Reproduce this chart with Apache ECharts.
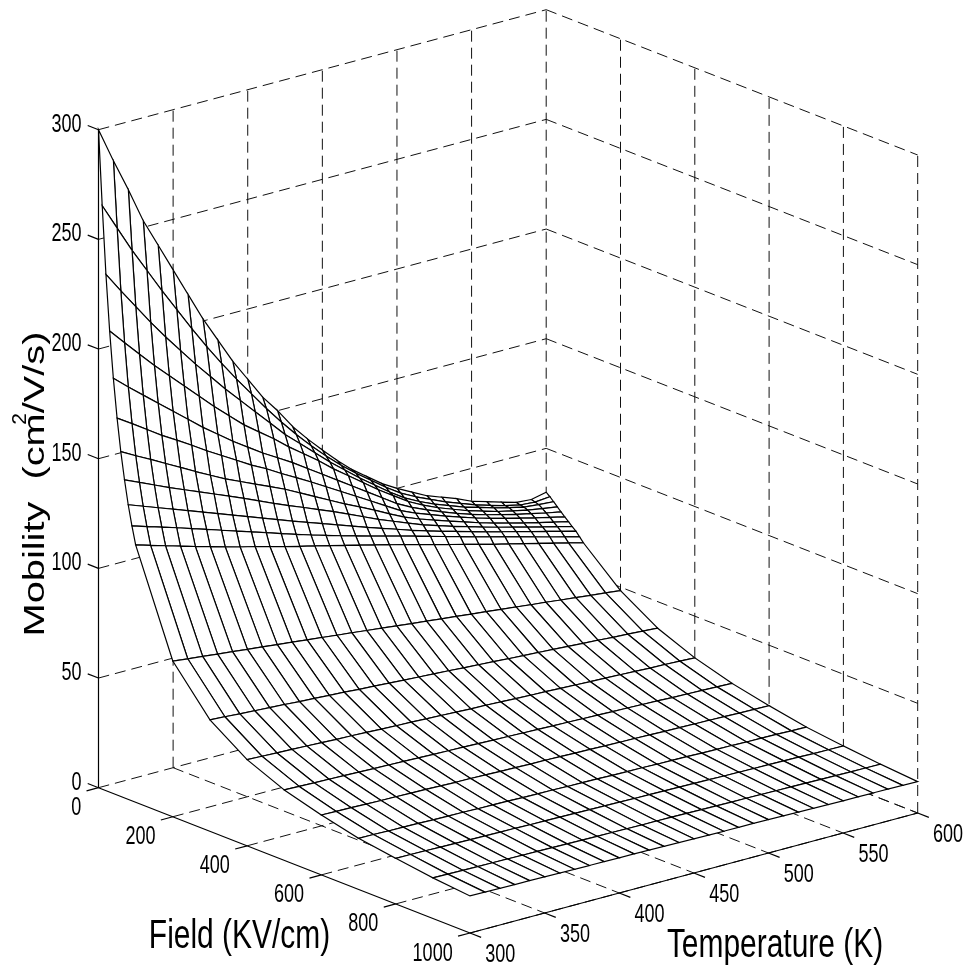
<!DOCTYPE html>
<html><head><meta charset="utf-8">
<style>html,body{margin:0;padding:0;background:#fff}#c{width:969px;height:973px}</style>
<script src="https://cdn.jsdelivr.net/npm/echarts@6/dist/echarts.min.js"></script>
</head><body><div id="c"></div>
<script>
// ---- values ----
const temperatures=[300,310,320,330,340,350,360,370,380,390,400,410,420,430,440,450,460,470,480,490,500,510,520,530,540,550,560,570,580,590,600];
const fields=[0,10,20,30,40,50,60,70,80,90,100,200,300,400,500,600,700,800,900,1000];
const mu0=[300,284,269,253,240,227,214,201,189.5,178,168,158,150,141,133.5,126.6,120,114,109,104,100,96.5,93,90.5,88,85,83,81,79,78.5,80];
const mu10=[266,254,242,231,220,209.5,199,189,179.5,170.5,162,153.5,145.5,138,131,124.5,118.5,113,108,103,98.5,95,92,89,86.5,84,82,80,78.5,78,78.6];
const mu20=[235.4,226,217,208,199.5,191.5,183.5,176,168.5,161.5,154.5,147.5,140.5,134.5,128.5,122.5,117,111.5,106.5,101.5,97,93.5,90.5,88,85.5,83.5,81.5,79.8,78.2,77.5,77];
const mu30=[210.2,203,196,189,182.5,176,169.5,163,157,151,146,141,135.5,130.5,125.5,120,115,110,105,100.5,96,92.5,89.5,87,84.5,82.5,80.5,79,77.5,76.3,75.3];
const mu40=[189.3,183.5,178,172.5,167,161.5,156,151,146,141.5,137,133,129,124.5,120,115.5,111,106.5,102,97.5,94,91,88.3,85.8,83.5,81.5,79.7,78,76.5,75,73.7];
const mu50=[171.8,167.5,163,158.5,154.5,150.3,146,142,138,134,130.5,126.5,122.8,119,115,111,107,103,99,95,92,89.5,87,84.7,82.5,80.5,78.7,77,75.3,73.7,72.1];
const mu60=[157.2,153.5,150,146.3,142.7,139,135.5,132,129,126,123,120,116.5,113,109.5,106,102.8,99.5,96,92.7,90,87.7,85.4,83.2,81,79,77.2,75.5,73.8,72.2,70.6];
const mu70=[145,142,139,136,133.2,130.4,127.6,124.8,122,119,116,113.2,110.5,107.7,105,102,99,96,93.3,90.6,88,85.8,83.7,81.7,79.7,77.8,76,74.2,72.5,70.8,69];
const mu80=[134.3,131.8,129.3,126.8,124.3,121.8,119.3,116.8,114.3,111.8,109.3,106.8,104.4,102,99.6,97.2,94.8,92.5,90.3,88,85.9,83.9,82,80.1,78.2,76.4,74.6,72.8,71.1,69.3,67.6];
const mu90=[125.3,123.2,121.1,119,116.8,114.6,112.4,110.2,108,105.8,103.6,101.4,99.3,97.3,95.3,93.4,91.5,89.7,87.9,86,84.1,82.2,80.3,78.4,76.6,74.7,72.9,71.1,69.2,67.4,65.6];
const mu100=[117.3,115.3,113.3,111.3,109.3,107.4,105.5,103.6,102,100.1,98.3,96.6,95,93.3,91.6,89.9,88.2,86.4,84.6,82.8,81,79.2,77.4,75.6,73.8,72.2,70.5,68.8,67.1,65.4,63.6];
const mu200=[71,70.2,69.5,68.7,68,67.2,66.5,65.7,65,64.2,63.5,62.7,62,61.2,60.5,59.7,58.9,58.2,57.4,56.7,55.9,55.2,54.4,53.7,52.9,52.2,51.4,50.7,49.9,49.2,48.4];
const mu300=[50.8,50.4,49.9,49.5,49.1,48.7,48.2,47.8,47.4,47,46.5,46.1,45.7,45.2,44.8,44.4,44,43.5,43.1,42.7,42.2,41.8,41.4,41,40.5,40.1,39.7,39.2,38.8,38.4,37.9];
const mu400=[39.3,39,38.7,38.5,38.2,37.9,37.6,37.4,37.1,36.8,36.5,36.3,36,35.7,35.4,35.1,34.9,34.6,34.3,34,33.8,33.5,33.2,32.9,32.7,32.4,32.1,31.8,31.6,31.3,31];
const mu500=[32.1,31.9,31.7,31.5,31.3,31.1,30.9,30.7,30.5,30.3,30.1,29.9,29.7,29.5,29.3,29.1,28.9,28.7,28.5,28.3,28.1,27.9,27.7,27.5,27.3,27.1,26.8,26.6,26.4,26.2,26];
const mu600=[27.3,27.1,27,26.8,26.6,26.5,26.3,26.2,26,25.8,25.7,25.5,25.3,25.2,25,24.9,24.7,24.5,24.4,24.2,24,23.9,23.7,23.5,23.4,23.2,23.1,22.9,22.7,22.6,22.4];
const mu700=[23.3,23.2,23,22.9,22.8,22.6,22.5,22.4,22.2,22.1,22,21.8,21.7,21.6,21.4,21.3,21.2,21,20.9,20.8,20.6,20.5,20.4,20.2,20.1,20,19.8,19.7,19.6,19.4,19.3];
const mu800=[20.8,20.7,20.6,20.4,20.3,20.2,20.1,20,19.9,19.7,19.6,19.5,19.4,19.3,19.2,19.1,18.9,18.8,18.7,18.6,18.5,18.4,18.2,18.1,18,17.9,17.8,17.7,17.5,17.4,17.3];
const mu900=[18.5,18.4,18.3,18.2,18.1,18,17.9,17.8,17.7,17.6,17.5,17.4,17.3,17.2,17.1,17.1,17,16.9,16.8,16.7,16.6,16.5,16.4,16.3,16.2,16.1,16,15.9,15.8,15.7,15.6];
const mu1000=[16.9,16.8,16.7,16.6,16.6,16.5,16.4,16.3,16.2,16.1,16,16,15.9,15.8,15.7,15.6,15.5,15.4,15.3,15.3,15.2,15.1,15,14.9,14.8,14.7,14.7,14.6,14.5,14.4,14.3];
const mobilityRows=[mu0,mu10,mu20,mu30,mu40,mu50,mu60,mu70,mu80,mu90,mu100,mu200,mu300,mu400,mu500,mu600,mu700,mu800,mu900,mu1000];
const zTicks=[0,50,100,150,200,250,300];
const fieldTicks=[0,200,400,600,800,1000];
const tempTicks=[300,350,400,450,500,550,600];
const fieldTitle='Field (KV/cm)';
const tempTitle='Temperature (K)';
const mobilityTitle='Mobility  (cm/V/s)';
const mobilitySup='2';

// ---- orthographic view of the box ----
const VIEW={x0:98.5,y0:787.7,eX:371.5,eY:145.3,tX:447.7,tY:-120,zY:-658};
const project=(t,e,z)=>[
  VIEW.x0+(e/1000)*VIEW.eX+((t-300)/300)*VIEW.tX,
  VIEW.y0+(e/1000)*VIEW.eY+((t-300)/300)*VIEW.tY+(z/300)*VIEW.zY];

// surface cells, far corner first
const cells=[];
for(let j=0;j<fields.length-1;j++)for(let i=temperatures.length-2;i>=0;i--)cells.push([i,j]);
const surface={type:'custom',coordinateSystem:'cartesian2d',z:2,clip:false,silent:true,data:cells,
  renderItem(p,api){
    const i=api.value(0),j=api.value(1);
    const P=(a,b)=>api.coord(project(temperatures[a],fields[b],mobilityRows[b][a]));
    return {type:'polygon',shape:{points:[P(i,j),P(i+1,j),P(i+1,j+1),P(i,j+1)]},
      style:{fill:'#fff',stroke:'#000',lineWidth:1.2}};
  }};

// lines given as two 3D ends
const lineSeries=(rows,z,dash)=>({type:'custom',coordinateSystem:'cartesian2d',z,clip:false,silent:true,data:rows,
  renderItem(p,api){
    const a=api.coord(project(api.value(0),api.value(1),api.value(2)));
    const b=api.coord(project(api.value(3),api.value(4),api.value(5)));
    return {type:'line',shape:{x1:a[0],y1:a[1],x2:b[0],y2:b[1]},
      style:{stroke:dash?'#111':'#000',lineWidth:dash?1:1.2,lineDash:dash?[11,6]:null}};
  }});
const guides=[];
zTicks.forEach(z=>{guides.push([300,0,z,600,0,z]);guides.push([600,0,z,600,1000,z]);});
tempTicks.slice(1).forEach(t=>{guides.push([t,0,0,t,0,300]);guides.push([t,0,0,t,1000,0]);});
fieldTicks.slice(1).forEach(e=>{guides.push([600,e,0,600,e,300]);guides.push([300,e,0,600,e,0]);});
const axes=[[300,0,0,300,0,300],[300,0,0,300,1000,0],[300,1000,0,600,1000,0]];

// tick marks run along the neighbouring axis direction
const TICK={zE:-29,eT:-8,tE:30};
const ticks=[];
zTicks.forEach(z=>ticks.push([300,0,z,300,TICK.zE,z]));
fieldTicks.forEach(e=>ticks.push([300,e,0,300+TICK.eT,e,0]));
tempTicks.forEach(t=>ticks.push([t,1000,0,t,1000+TICK.tE,0]));

// texts
const NUM='25.4px "Liberation Sans"',SX=0.71;
const tickTexts=[];
zTicks.forEach(z=>tickTexts.push([300,0,z,-17,-5,String(z),'right']));
fieldTicks.forEach(e=>tickTexts.push([300,e,0,-17.3,20.5,String(e),'right']));
tempTicks.forEach(t=>tickTexts.push([t,1000,0,15.3,22,String(t),'left']));
const tickLabelSeries={type:'custom',coordinateSystem:'cartesian2d',z:4,clip:false,silent:true,data:tickTexts.map((r,i)=>[i]),
  renderItem(p,api){
    const r=tickTexts[api.value(0)];
    const a=api.coord(project(r[0],r[1],r[2]));
    return {type:'text',x:a[0]+r[3],y:a[1]+r[4],scaleX:SX,
      style:{text:r[5],font:NUM,fill:'#000',textAlign:r[6],textVerticalAlign:'middle'}};
  }};
const titleSeries={type:'custom',coordinateSystem:'cartesian2d',z:4,clip:false,silent:true,data:[[0]],
  renderItem(p,api){
    return {type:'group',children:[
      {type:'text',x:239.5,y:937,scaleX:0.73,style:{text:fieldTitle,font:'41px "Liberation Sans"',fill:'#000',textAlign:'center',textVerticalAlign:'middle'}},
      {type:'text',x:775,y:946,scaleX:0.73,style:{text:tempTitle,font:'41px "Liberation Sans"',fill:'#000',textAlign:'center',textVerticalAlign:'middle'}},
      {type:'text',x:36,y:484,rotation:Math.PI/2,scaleX:1.326,style:{text:mobilityTitle,font:'30px "Liberation Sans"',fill:'#000',textAlign:'center',textVerticalAlign:'middle'}},
      {type:'text',x:20.5,y:419,rotation:Math.PI/2,style:{text:mobilitySup,font:'21px "Liberation Sans"',fill:'#000',textAlign:'center',textVerticalAlign:'middle'}}
    ]};
  }};

const chart=echarts.init(document.getElementById('c'),null,{renderer:'canvas'});
chart.setOption({
  animation:false,backgroundColor:'#fff',tooltip:{show:false},
  grid:{left:0,right:0,top:0,bottom:0},
  xAxis:{type:'value',min:0,max:969,show:false},
  yAxis:{type:'value',min:0,max:973,inverse:true,show:false},
  series:[lineSeries(guides,1,true),surface,lineSeries(axes.concat(ticks),3,false),tickLabelSeries,titleSeries]
});
</script></body></html>
